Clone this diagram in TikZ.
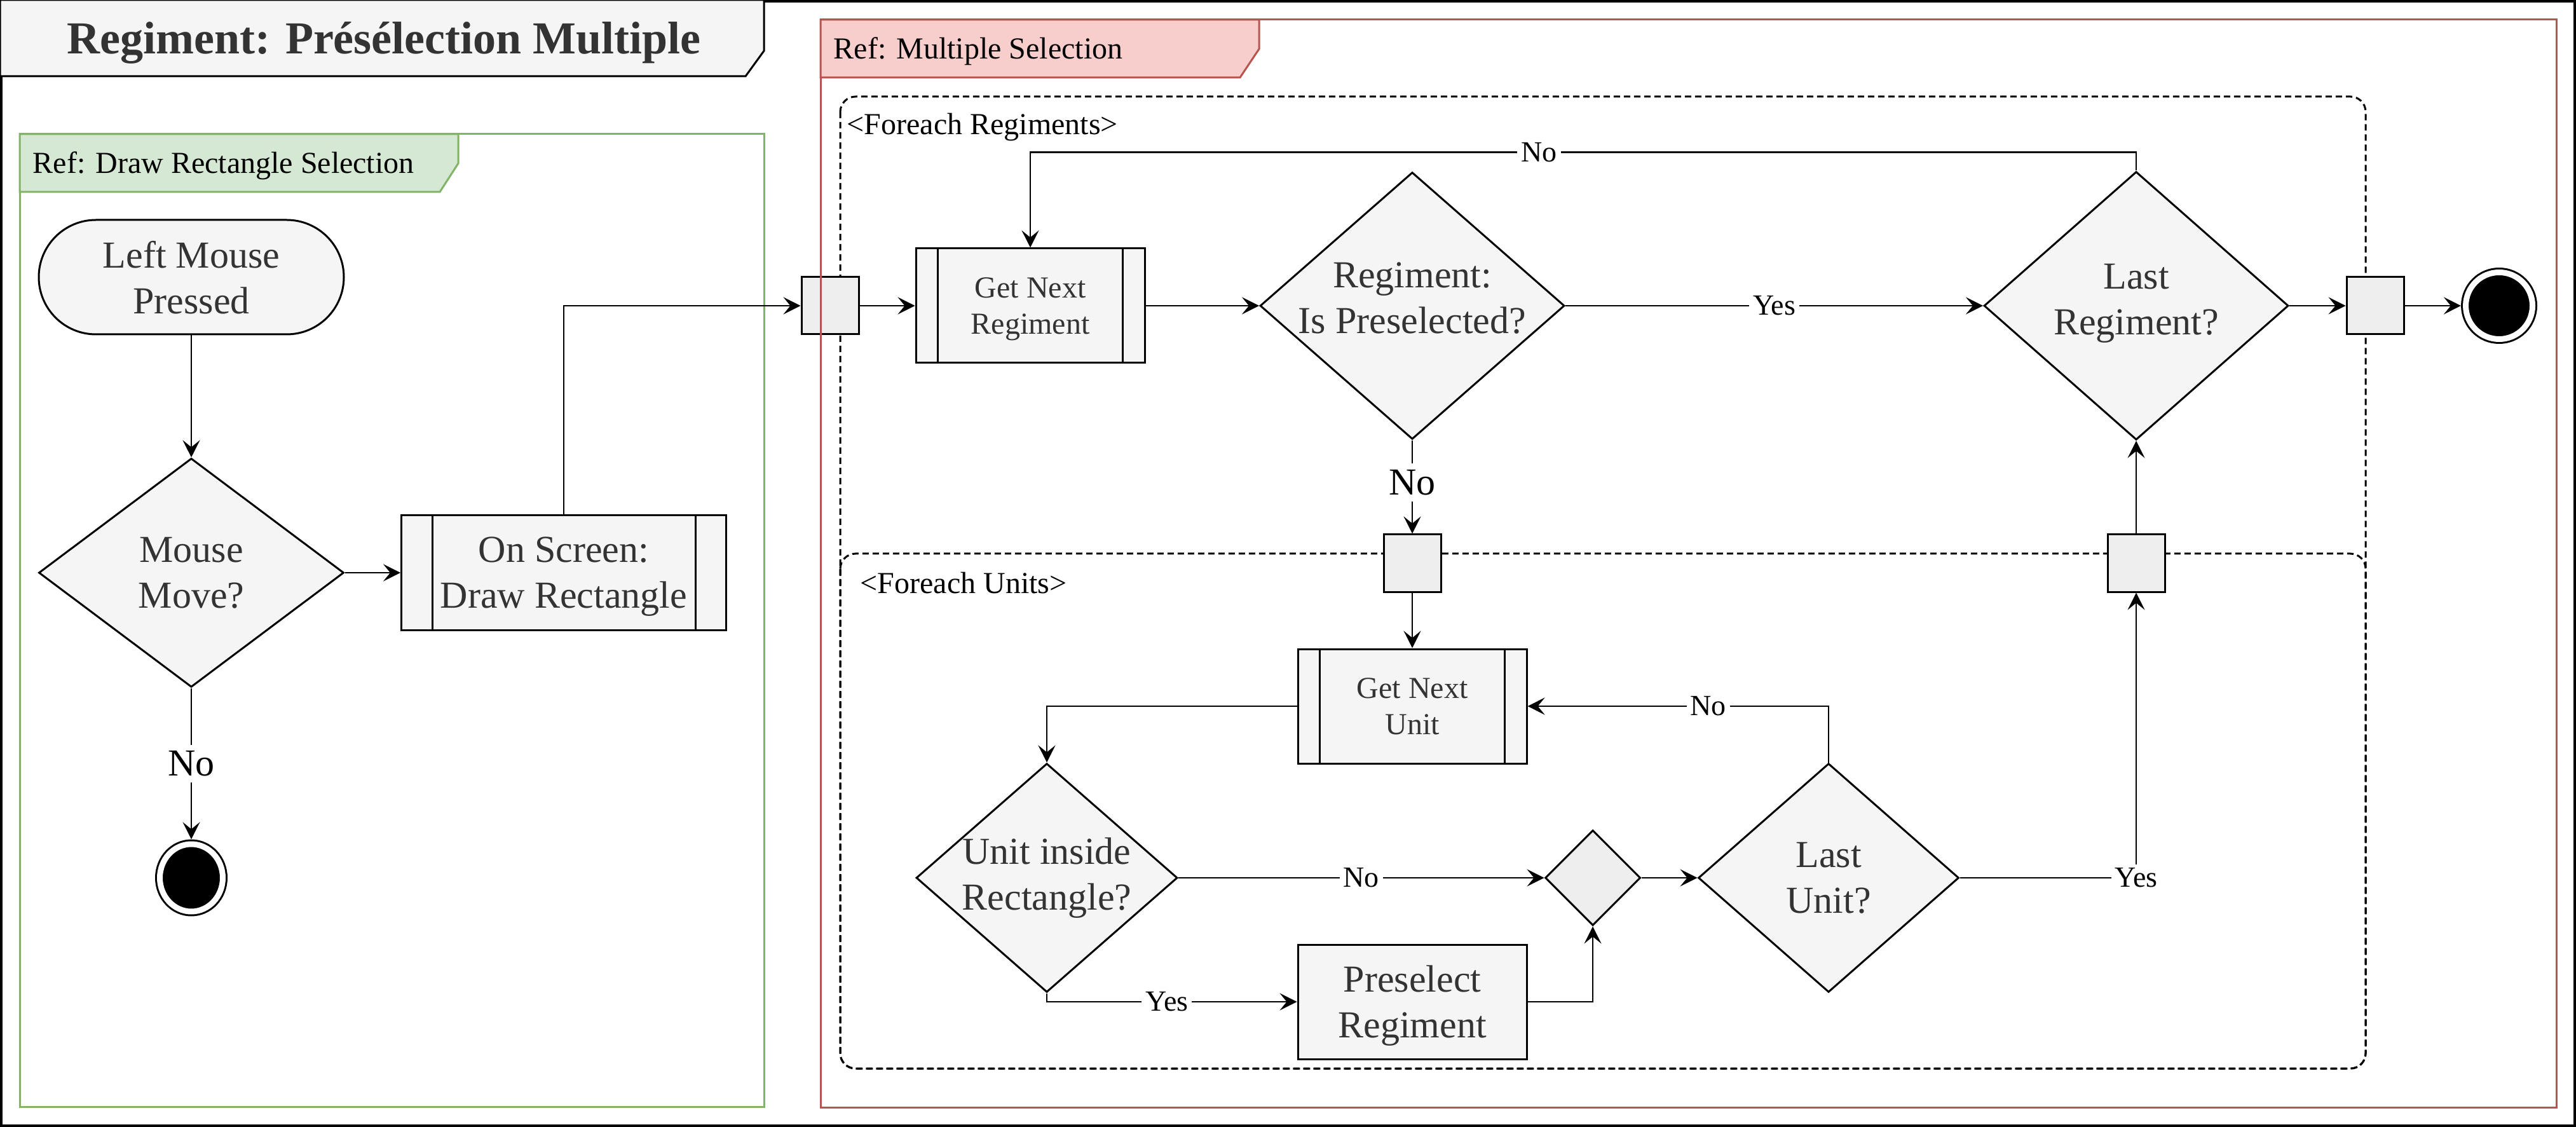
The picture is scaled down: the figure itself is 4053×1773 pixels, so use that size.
\documentclass[tikz,border=0pt]{standalone}
\usepackage{fontspec}
\setmainfont{Liberation Serif}
\usetikzlibrary{arrows.meta,shapes.geometric}

\definecolor{nodefill}{HTML}{F5F5F5}
\definecolor{pinfill}{HTML}{EEEEEE}
\definecolor{txtgray}{HTML}{333333}
\definecolor{grnline}{HTML}{82B366}
\definecolor{grnfill}{HTML}{D5E8D4}
\definecolor{redline}{HTML}{B85450}
\definecolor{redfill}{HTML}{F8CECC}

\newcommand{\ftitle}{\fontsize{18pt}{21.6pt}\selectfont\bfseries}
\newcommand{\fnode}{\fontsize{15pt}{18pt}\selectfont}
\newcommand{\fsub}{\fontsize{12pt}{14.4pt}\selectfont}
\newcommand{\flbl}{\fontsize{11.5pt}{13.8pt}\selectfont}

\begin{document}
\begin{tikzpicture}[x=0.25pt, y=-0.25pt,
	box/.style={draw, line width=0.75pt, fill=nodefill, text=txtgray, font=\fnode, align=center, inner sep=0pt, text depth=0pt},
	dtext/.style={text=txtgray, font=\fnode, align=center},
	start/.style={box, rounded corners=22.5pt, minimum width=120pt, minimum height=45pt},
	proc/.style={box, minimum width=90pt, minimum height=45pt},
	decision/.style={box, diamond},
	pinbox/.style={draw, line width=0.75pt, fill=pinfill, minimum size=22.5pt, inner sep=0pt},
	final/.style={ellipse, draw=black, fill=black, line width=0.75pt, double=white, double distance=2.25pt, minimum width=26.25pt, minimum height=26.25pt, inner sep=0pt, outer sep=1.9pt},
	flow/.style={line width=0.7pt, -{Stealth[length=6.75pt, width=6.75pt, inset=2.75pt]}},
	lbl/.style={fill=white, inner sep=1.5pt, font=\flbl},
	biglbl/.style={lbl, inner sep=2.5pt, font=\fnode},
	tabtext/.style={font=\fsub, anchor=base west, inner sep=0pt},
	region/.style={line width=0.75pt, dash pattern=on 2.5pt off 1.5pt, rounded corners=6pt},
	frameline/.style={line width=0.75pt}
]
	\useasboundingbox (0,0) rectangle (4053,1773);
	\draw[line width=1pt] (2,2) rectangle (4051,1771);
	\filldraw[frameline, fill=nodefill] (0,0) -- (1202,0) -- (1202,80) -- (1173,120) -- (0,120) -- cycle;
	\node[font=\ftitle, text=txtgray, anchor=base] (title) at (604,85) {Regiment: Présélection Multiple};

	\draw[frameline, draw=grnline] (31,211) rectangle (1202,1741);
	\filldraw[frameline, draw=grnline, fill=grnfill] (31,211) -- (721,211) -- (721,257) -- (692,302) -- (31,302) -- cycle;
	\node[tabtext] (grnlbl) at (51,273) {Ref: Draw Rectangle Selection};

	\draw[region] (1322,152) rectangle (3722,1681);
	\draw[region] (1322,871) rectangle (3722,1681);
	\node[tabtext] (rgmloop) at (1332,212) {<Foreach Regiments>};
	\node[tabtext] (unitloop) at (1353,933) {<Foreach Units>};

	\node[start] (lmp) at (301,436) {Left Mouse\\Pressed};
	\node[decision, minimum width=120pt, minimum height=90pt, label={[dtext]center:{Mouse\\Move?}}] (mm) at (301,901) {};
	\node[proc, minimum width=127.75pt] (drw) at (887,901) {On Screen:\\Draw Rectangle};
	\node[final, minimum width=24.75pt, minimum height=26.5pt] (endl) at (301,1381) {};

	\node[pinbox] (pin1) at (1306,481) {};
	\node[proc, font=\fsub] (gnr) at (1621,481) {Get Next\\Regiment};
	\node[decision, minimum width=119.75pt, minimum height=105pt, label={[dtext, yshift=3pt]center:{Regiment:\\Is Preselected?}}] (isp) at (2222,481) {};
	\node[decision, minimum width=119.75pt, minimum height=105.5pt, label={[dtext, yshift=1pt]center:{Last\\Regiment?}}] (lr) at (3361,481) {};
	\node[pinbox] (pout) at (3737,481) {};
	\node[final] (endr) at (3932,481) {};

	\node[pinbox] (pu1) at (2222,886) {};
	\node[proc, font=\fsub] (gnu) at (2222,1111) {Get Next\\Unit};
	\node[decision, minimum width=102.75pt, minimum height=90pt, label={[dtext]center:{Unit inside\\Rectangle?}}] (uir) at (1647,1381) {};
	\node[decision, fill=pinfill, minimum width=37.5pt, minimum height=37.5pt] (mrg) at (2506,1381) {};
	\node[proc] (pre) at (2222,1576) {Preselect\\Regiment};
	\node[decision, minimum width=102.5pt, minimum height=90pt, label={[dtext]center:{Last\\Unit?}}] (lu) at (2877,1381) {};
	\node[pinbox] (pu2) at (3361,886) {};

	\foreach \n/\s in {drw/12.5pt, gnr/9pt, gnu/9pt}
		\draw[line width=0.75pt] ([xshift=\s]\n.north west) -- ([xshift=\s]\n.south west)
			([xshift=-\s]\n.north east) -- ([xshift=-\s]\n.south east);

	\draw[frameline, draw=redline] (1291,31) rectangle (4022,1742);
	\filldraw[frameline, draw=redline, fill=redfill] (1291,31) -- (1981,31) -- (1981,77) -- (1951,122) -- (1291,122) -- cycle;
	\node[tabtext] (redlbl) at (1311,93) {Ref: Multiple Selection};

	\draw[flow] (lmp) -- (mm);
	\draw[flow] (mm) -- (drw);
	\draw[flow] (mm) -- node[biglbl] {No} (endl);
	\draw[flow] (drw.north) |- (pin1);
	\draw[flow] (pin1) -- (gnr);
	\draw[flow] (gnr) -- (isp);
	\draw[flow] (isp) -- node[lbl] {Yes} (lr);
	\draw[flow] (lr.north) -- ++(0,-29) -| node[lbl, pos=0.27] {No} (gnr.north);
	\draw[flow] (lr) -- (pout);
	\draw[flow] (pout) -- (endr);
	\draw[flow] (isp) -- node[biglbl, pos=0.45] {No} (pu1);
	\draw[flow] (pu1) -- (gnu);
	\draw[flow] (gnu.west) -| (uir.north);
	\draw[flow] (uir) -- node[lbl] {No} (mrg);
	\draw[flow] (uir.south) |- node[lbl, pos=0.74] {Yes} (pre);
	\draw[flow] (pre) -| (mrg.south);
	\draw[flow] (mrg) -- (lu);
	\draw[flow] (lu.north) |- node[lbl, pos=0.7] {No} (gnu);
	\draw[flow] (lu) -| node[lbl, pos=0.5] {Yes} (pu2);
	\draw[flow] (pu2) -- (lr);
\end{tikzpicture}
\end{document}
